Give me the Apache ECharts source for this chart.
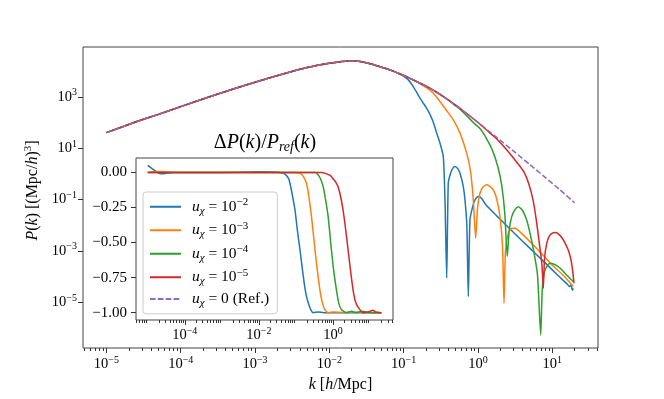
<!DOCTYPE html>
<html>
<head>
<meta charset="utf-8">
<script src="https://cdn.jsdelivr.net/npm/echarts@6/dist/echarts.min.js"></script>
<style>
html, body { margin: 0; padding: 0; background: #fff; }
#main { width: 664px; height: 399px; }
</style>
</head>
<body>
<div id="main"></div>
<script>
// all values are log10 of the plotted quantity
// main panel: log10 k [h/Mpc], log10 P(k) [(Mpc/h)^3]
var lgkShared = [-5.0, -4.6, -4.3, -4.0, -3.5, -3.0, -2.6, -2.3, -2.1, -1.95, -1.85, -1.75, -1.65, -1.55, -1.45, -1.35, -1.25, -1.15, -1.05];
var lgPShared = [1.61, 2.03, 2.32, 2.62, 3.11, 3.57, 3.91, 4.14, 4.26, 4.33, 4.37, 4.40, 4.40, 4.36, 4.29, 4.20, 4.11, 4.01, 3.89];

var lgkRef = [-0.95, -0.85, -0.75, -0.65, -0.55, -0.45, -0.35, -0.25, -0.15, -0.05, 0.05, 0.15, 0.3, 0.5, 0.7, 0.9, 1.1, 1.3];
var lgPRef = [3.77, 3.63, 3.49, 3.34, 3.17, 2.98, 2.78, 2.57, 2.35, 2.12, 1.89, 1.66, 1.31, 0.84, 0.36, -0.12, -0.61, -1.12];

var lgkRed = [-0.95, -0.85, -0.75, -0.65, -0.55, -0.45, -0.35, -0.25, -0.15, -0.05, 0.05, 0.15, 0.25, 0.35, 0.45, 0.55, 0.62, 0.68, 0.74, 0.79, 0.83, 0.86, 0.879, 0.895, 0.925, 0.96, 1.0, 1.04, 1.08, 1.13, 1.17, 1.22, 1.26, 1.292];
var lgPRed = [3.77, 3.63, 3.49, 3.34, 3.17, 2.98, 2.78, 2.57, 2.35, 2.12, 1.88, 1.62, 1.37, 1.06, 0.72, 0.35, 0.07, -0.35, -1.0, -1.9, -2.8, -3.5, -4.45, -3.3, -2.7, -2.42, -2.3, -2.28, -2.33, -2.48, -2.68, -3.0, -3.47, -4.25];

var lgkGreen = [-0.95, -0.85, -0.75, -0.65, -0.55, -0.45, -0.35, -0.25, -0.15, -0.05, 0.03, 0.1, 0.2, 0.27, 0.32, 0.36, 0.394, 0.42, 0.454, 0.5, 0.542, 0.6, 0.655, 0.7, 0.75, 0.8, 0.844, 0.865, 0.9, 0.969, 1.03, 1.104, 1.2, 1.283];
var lgPGreen = [3.77, 3.63, 3.49, 3.34, 3.17, 2.98, 2.77, 2.54, 2.26, 1.97, 1.76, 1.45, 0.88, 0.25, -0.45, -1.5, -3.2, -2.2, -1.66, -1.38, -1.27, -1.42, -1.79, -2.3, -3.0, -3.9, -6.26, -4.5, -3.75, -3.47, -3.52, -3.66, -3.95, -4.19];

var lgkOrange = [-0.95, -0.85, -0.75, -0.65, -0.58, -0.511, -0.43, -0.332, -0.242, -0.152, -0.1, -0.063, -0.031, -0.005, 0.027, 0.07, 0.117, 0.16, 0.206, 0.25, 0.296, 0.33, 0.35, 0.37, 0.408, 0.45, 0.498, 0.6, 0.8, 1.0, 1.15, 1.283];
var lgPOrange = [3.77, 3.62, 3.46, 3.27, 3.07, 2.82, 2.5, 2.105, 1.59, 0.81, 0.1, -1.01, -2.5, -1.3, -0.75, -0.5, -0.42, -0.48, -0.62, -0.95, -1.66, -2.8, -5.03, -3.0, -2.3, -2.12, -2.11, -2.35, -2.93, -3.55, -3.95, -4.38];

var lgkBlue = [-0.95, -0.871, -0.78, -0.69, -0.646, -0.6, -0.556, -0.511, -0.467, -0.444, -0.421, -0.40, -0.37, -0.34, -0.31, -0.27, -0.242, -0.2, -0.175, -0.15, -0.13, -0.108, -0.07, -0.04, 0.004, 0.05, 0.1, 0.252, 0.4, 0.6, 0.8, 1.0, 1.15, 1.2, 1.23, 1.25, 1.27, 1.283];
var lgPBlue = [3.70, 3.40, 2.95, 2.55, 2.32, 2.0, 1.59, 1.20, 0.68, -1.01, -4.05, -0.36, 0.02, 0.22, 0.29, 0.2, 0.03, -0.45, -1.01, -2.0, -4.77, -1.79, -1.25, -1.01, -0.88, -0.95, -1.18, -1.63, -2.05, -2.62, -3.17, -3.73, -4.15, -4.28, -4.38, -4.32, -4.52, -4.45];

// inset: log10 k, Delta P / P_ref
var lgkInBlue = [-5.0, -4.9, -4.8, -4.7, -4.6, -4.45, -4.3, -3.0, -2.2, -1.9, -1.6, -1.4, -1.297, -1.2, -1.162, -1.1, -1.028, -0.96, -0.894, -0.805, -0.73, -0.671, -0.6, -0.537, -0.4, -0.25, 0.0, 0.5, 1.3];
var dInBlue = [0.05, 0.03, 0.012, -0.006, -0.01, -0.004, 0, 0, 0.003, 0.005, 0.003, -0.003, -0.012, -0.045, -0.079, -0.16, -0.268, -0.42, -0.55, -0.74, -0.87, -0.93, -0.98, -1.0, -0.995, -1.0, -1.0, -1.0, -1.0];

var lgkInOrange = [-5.0, -4.8, -4.6, -4.4, -4.2, -1.0, -0.894, -0.8, -0.716, -0.65, -0.583, -0.49, -0.42, -0.357, -0.29, -0.223, -0.134, 0.0, 0.3, 0.5, 1.3];
var dInOrange = [0.0, 0.006, 0.006, 0.002, 0, 0, -0.005, -0.03, -0.079, -0.18, -0.315, -0.55, -0.71, -0.836, -0.93, -0.978, -1.0, -0.995, -1.0, -0.995, -1.0];

var lgkInGreen = [-5.0, -0.5, -0.447, -0.35, -0.268, -0.2, -0.134, -0.046, 0.02, 0.089, 0.15, 0.223, 0.357, 0.5, 0.6, 0.8, 1.0, 1.3];
var dInGreen = [0, 0, -0.005, -0.04, -0.102, -0.2, -0.315, -0.55, -0.71, -0.836, -0.93, -0.978, -1.0, -0.99, -1.0, -0.99, -1.0, -1.0];

var lgkInRed = [-5.0, -0.3, -0.2, -0.089, 0.0, 0.07, 0.134, 0.2, 0.268, 0.34, 0.403, 0.47, 0.537, 0.6, 0.671, 0.805, 0.95, 1.074, 1.15, 1.3];
var dInRed = [0, 0, -0.008, -0.02, -0.045, -0.07, -0.102, -0.17, -0.268, -0.41, -0.55, -0.7, -0.836, -0.92, -0.96, -1.0, -0.995, -0.983, -0.995, -1.0];

var seriesNames = ['u2', 'u3', 'u4', 'u5', 'ref'];
var legendLabels = {
    u2: '{i0|u}{s|χ}{n| = 10}{e|−2}',
    u3: '{i0|u}{s|χ}{n| = 10}{e|−3}',
    u4: '{i0|u}{s|χ}{n| = 10}{e|−4}',
    u5: '{i0|u}{s|χ}{n| = 10}{e|−5}',
    ref: '{i0|u}{s|χ}{n| = 0 (Ref.)}'
};
var colors = ['#1f77b4', '#ff7f0e', '#2ca02c', '#d62728', '#9467bd'];

var xMajor = [-5, -4, -3, -2, -1, 0, 1];
var yMajor = [-5, -3, -1, 1, 3];
var insetXMajor = [-4, -2, 0];
var insetYMajor = [0, -0.25, -0.5, -0.75, -1.0];

var FONT = 'Liberation Serif';
var lgkMin = -5.315, lgkMax = 1.615;

function pairs(k, v) {
    return k.map(function (x, i) { return [x, v[i]]; });
}
function minorTicks(lo, hi) {
    var out = [];
    for (var n = -6; n <= 2; n++) {
        for (var m = 2; m <= 9; m++) {
            var t = Math.log10(m) + n;
            if (t > lo && t < hi) out.push(t);
        }
    }
    return out;
}
function powLabel(v) {
    var n = Math.round(v);
    return '{b|10}{e|' + (n < 0 ? '−' : '') + Math.abs(n) + '}';
}

function richSet(size) {
    var sm = Math.round(size * 0.7);
    return {
        b: { fontFamily: FONT, fontSize: size, lineHeight: size + 4, color: '#000' },
        e: { fontFamily: FONT, fontSize: sm, lineHeight: sm, verticalAlign: 'top', color: '#000' },
        i: { fontFamily: FONT, fontSize: size, lineHeight: size + 4, fontStyle: 'italic', color: '#000' },
        i0: { fontFamily: FONT, fontSize: size, lineHeight: size + 4, fontStyle: 'italic', color: '#000', padding: [0, 0, 0, 6] },
        n: { fontFamily: FONT, fontSize: size, lineHeight: size + 4, color: '#000' },
        s: { fontFamily: FONT, fontSize: sm, lineHeight: sm - 2, verticalAlign: 'bottom', fontStyle: 'italic', color: '#000' }
    };
}
var tickRich = richSet(14.5);
var nameRich = richSet(16);
var legendRich = richSet(15.5);

var mainLines = [
    pairs(lgkShared.concat(lgkBlue), lgPShared.concat(lgPBlue)),
    pairs(lgkShared.concat(lgkOrange), lgPShared.concat(lgPOrange)),
    pairs(lgkShared.concat(lgkGreen), lgPShared.concat(lgPGreen)),
    pairs(lgkShared.concat(lgkRed), lgPShared.concat(lgPRed)),
    pairs(lgkShared.concat(lgkRef), lgPShared.concat(lgPRef))
];
var insetLines = [
    pairs(lgkInBlue, dInBlue),
    pairs(lgkInOrange, dInOrange),
    pairs(lgkInGreen, dInGreen),
    pairs(lgkInRed, dInRed)
];

var series = [];
mainLines.forEach(function (d, i) {
    series.push({
        name: seriesNames[i], type: 'line', xAxisIndex: 0, yAxisIndex: 0,
        data: d, showSymbol: false, symbol: 'none', smooth: 0.2, z: 2,
        lineStyle: { color: colors[i], width: 1.5, type: i === 4 ? [5.5, 2.4] : 'solid' },
        itemStyle: { color: colors[i] }
    });
});
insetLines.forEach(function (d, i) {
    series.push({
        name: seriesNames[i], type: 'line', xAxisIndex: 2, yAxisIndex: 1,
        data: d, showSymbol: false, symbol: 'none', smooth: 0.2, z: 6,
        lineStyle: { color: colors[i], width: 1.5 },
        itemStyle: { color: colors[i] }
    });
});

var tickLine = { color: '#333', width: 1 };
var noLine = { show: false, onZero: false };

var option = {
    animation: false,
    backgroundColor: '#fff',
    grid: [
        { left: 83, top: 47, width: 515, height: 301, show: true, borderColor: '#444', borderWidth: 1, backgroundColor: 'transparent', z: 0 },
        { left: 136, top: 158, width: 257, height: 162, show: true, borderColor: '#444', borderWidth: 1, backgroundColor: '#fff', z: 5 }
    ],
    xAxis: [
        {
            type: 'value', gridIndex: 0, position: 'bottom', min: lgkMin, max: lgkMax,
            axisLine: noLine, splitLine: { show: false },
            axisTick: { show: true, customValues: xMajor, length: 5, lineStyle: tickLine },
            axisLabel: { customValues: xMajor, formatter: powLabel, margin: 7, rich: tickRich },
            name: '{i|k}{n| [}{i|h}{n|/Mpc]}', nameLocation: 'middle', nameGap: 21,
            nameTextStyle: { rich: nameRich }
        },
        {
            type: 'value', gridIndex: 0, position: 'bottom', min: lgkMin, max: lgkMax,
            axisLine: noLine, splitLine: { show: false }, axisLabel: { show: false },
            axisTick: { show: true, customValues: minorTicks(lgkMin, lgkMax), length: 3, lineStyle: tickLine }
        },
        {
            type: 'value', gridIndex: 1, position: 'bottom', min: lgkMin, max: lgkMax, z: 6,
            axisLine: noLine, splitLine: { show: false },
            axisTick: { show: true, customValues: insetXMajor, length: 5, lineStyle: tickLine },
            axisLabel: { customValues: insetXMajor, formatter: powLabel, margin: 6, rich: tickRich }
        },
        {
            type: 'value', gridIndex: 1, position: 'bottom', min: lgkMin, max: lgkMax, z: 6,
            axisLine: noLine, splitLine: { show: false }, axisLabel: { show: false },
            axisTick: { show: true, customValues: minorTicks(lgkMin, lgkMax), length: 3, lineStyle: tickLine }
        }
    ],
    yAxis: [
        {
            type: 'value', gridIndex: 0, position: 'left', min: -6.77, max: 4.94,
            axisLine: noLine, splitLine: { show: false },
            axisTick: { show: true, customValues: yMajor, length: 5, lineStyle: tickLine },
            axisLabel: { customValues: yMajor, formatter: powLabel, margin: 6, rich: tickRich },
            name: '{i|P}{n|(}{i|k}{n|) [(Mpc/}{i|h}{n|)}{e|3}{n|]}', nameLocation: 'middle', nameGap: 32,
            nameTextStyle: { rich: nameRich, padding: [0, 0, 0, 14] }
        },
        {
            type: 'value', gridIndex: 1, position: 'left', min: -1.0525, max: 0.1025, z: 6,
            axisLine: noLine, splitLine: { show: false },
            axisTick: { show: true, customValues: insetYMajor, length: 5, lineStyle: tickLine },
            axisLabel: {
                customValues: insetYMajor, margin: 9,
                fontFamily: FONT, fontSize: 15, color: '#000',
                formatter: function (v) { return v.toFixed(2).replace('-', '−'); }
            }
        }
    ],
    legend: {
        orient: 'vertical', left: 143, top: 192, z: 10,
        padding: [5, 8, 5, 6], itemWidth: 31, itemHeight: 10, itemGap: 4,
        backgroundColor: 'rgba(255,255,255,0.8)', borderColor: '#ccc', borderWidth: 1, borderRadius: 3,
        itemStyle: { color: 'rgba(0,0,0,0)', borderWidth: 0, opacity: 0 },
        data: seriesNames,
        formatter: function (name) { return legendLabels[name]; },
        textStyle: { rich: legendRich }
    },
    graphic: [{
        type: 'text', x: 265, y: 143, z: 10,
        style: {
            text: '{t|Δ}{ti|P}{t|(}{ti|k}{t|)/}{ti|P}{ts|ref}{t|(}{ti|k}{t|)}',
            textAlign: 'center', textVerticalAlign: 'middle',
            rich: {
                t: { fontFamily: FONT, fontSize: 20, lineHeight: 22, fill: '#000' },
                ti: { fontFamily: FONT, fontSize: 20, lineHeight: 22, fontStyle: 'italic', fill: '#000' },
                ts: { fontFamily: FONT, fontSize: 14, lineHeight: 10, verticalAlign: 'bottom', fontStyle: 'italic', fill: '#000' }
            }
        }
    }],
    series: series
};

var myChart = echarts.init(document.getElementById('main'));
myChart.setOption(option);
</script>
</body>
</html>
